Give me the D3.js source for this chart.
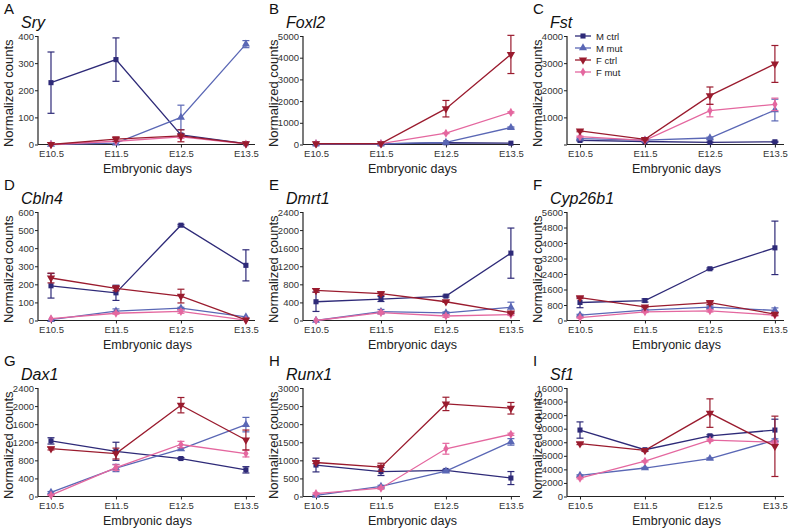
<!DOCTYPE html>
<html><head><meta charset="utf-8">
<script src="https://cdn.jsdelivr.net/npm/d3@7"></script>
<style>body{margin:0;background:#fff} svg text{font-family:"Liberation Sans",Arial,sans-serif}</style>
</head><body><svg id="c" width="793" height="529"></svg>
<script>
const days = ["E10.5","E11.5","E12.5","E13.5"];
const seriesNames = ["M ctrl","M mut","F ctrl","F mut"];
const seriesColors = ["#2e2a78","#5a67b5","#9a1b2e","#e4679f"];
const genes = ["Sry","Foxl2","Fst","Cbln4","Dmrt1","Cyp26b1","Dax1","Runx1","Sf1"];
const panelLetters = ["A","B","C","D","E","F","G","H","I"];
const yMax = [400,5000,4000,600,2400,5600,2400,3000,16000];
const yStep = [100,1000,1000,100,400,800,400,500,2000];
const showZero = [true,true,false,true,true,true,true,true,true];

// rows: M ctrl, M mut, F ctrl, F mut ; columns: E10.5..E13.5
const sryMean = [[228,313,35,3],[0,5,100,370],[0,20,32,3],[0,12,28,2]];
const sryErr  = [[113,80,4,0],[0,0,45,13],[0,8,22,0],[0,0,5,0]];
const foxl2Mean = [[30,30,80,60],[30,30,100,780],[40,40,1650,4150],[40,40,520,1480]];
const foxl2Err  = [[0,0,0,0],[0,0,0,30],[0,0,380,880],[0,0,20,30]];
const fstMean = [[150,110,80,100],[220,160,240,1270],[500,190,1800,2970],[290,150,1250,1480]];
const fstErr  = [[20,10,10,20],[20,10,30,400],[30,20,320,680],[20,10,230,230]];
const cbln4Mean = [[192,153,527,305],[5,52,68,20],[235,178,135,3],[10,40,50,2]];
const cbln4Err  = [[68,42,5,86],[0,12,5,0],[27,14,38,0],[0,5,10,0]];
const dmrt1Mean = [[415,475,540,1490],[0,195,170,290],[665,595,415,170],[0,175,100,130]];
const dmrt1Err  = [[215,55,20,555],[0,50,20,115],[40,40,15,20],[0,30,30,20]];
const cyp26b1Mean = [[930,1030,2670,3750],[280,540,690,520],[1180,700,920,330],[150,450,500,280]];
const cyp26b1Err  = [[270,80,40,1380],[40,40,60,130],[50,40,100,60],[30,40,60,50]];
const dax1Mean = [[1230,1000,840,590],[90,630,1050,1590],[1060,950,2020,1250],[30,640,1150,950]];
const dax1Err  = [[70,200,20,70],[20,80,30,160],[30,120,170,220],[10,60,70,75]];
const runx1Mean = [[870,690,720,510],[30,280,700,1510],[940,810,2560,2440],[80,230,1320,1720]];
const runx1Err  = [[190,110,30,180],[10,30,30,90],[30,110,185,160],[20,30,150,30]];
const sf1Mean = [[9800,6900,8950,9800],[3100,4200,5600,8300],[7800,6800,12300,7400],[2700,5200,8300,8000]];
const sf1Err  = [[1200,150,150,1600],[100,100,100,200],[150,150,2100,4450],[100,100,150,200]];

const means = [sryMean,foxl2Mean,fstMean,cbln4Mean,dmrt1Mean,cyp26b1Mean,dax1Mean,runx1Mean,sf1Mean];
const errs  = [sryErr,foxl2Err,fstErr,cbln4Err,dmrt1Err,cyp26b1Err,dax1Err,runx1Err,sf1Err];

const svg = d3.select("#c");
const colX = [0,265,529], rowY = [0,176,352];
const axL = 38, axR = 255, axT = 36, axB = 144.5;
const symbols = [
  {t:d3.symbolSquare, s:26, r:0},
  {t:d3.symbolTriangle, s:28, r:0},
  {t:d3.symbolTriangle, s:30, r:180},
  {t:d3.symbolDiamond, s:24, r:0}
];
const drawOrder = [0,1,3,2];

genes.forEach((g,pi)=>{
  const gx = colX[pi%3], gy = rowY[Math.floor(pi/3)];
  const p = svg.append("g").attr("transform",`translate(${gx},${gy})`);
  const x = d3.scaleLinear().domain([-0.2,3.14]).range([axL,axR]);
  const y = d3.scaleLinear().domain([0,yMax[pi]]).range([axB,axT]);

  p.append("text").attr("x",4).attr("y",14).attr("font-size",15).attr("fill","#111").text(panelLetters[pi]);
  p.append("text").attr("x",21).attr("y",28).attr("font-size",16).attr("font-style","italic").attr("fill","#111").text(g);

  const ticks = d3.range(0,yMax[pi]+1e-9,yStep[pi]);
  const ya = p.append("g").attr("transform",`translate(${axL},0)`)
    .call(d3.axisLeft(y).tickValues(ticks).tickSize(3).tickPadding(1)
      .tickFormat(v=> (v===0 && !showZero[pi]) ? "" : d3.format("d")(v)));
  const xa = p.append("g").attr("transform",`translate(0,${axB})`)
    .call(d3.axisBottom(x).tickValues([0,1,2,3]).tickSize(3).tickPadding(3).tickFormat(i=>days[i]));
  [ya,xa].forEach(a=>{
    a.select(".domain").attr("stroke","#222").attr("stroke-width",1.2);
    a.selectAll(".tick line").attr("stroke","#222");
    a.selectAll("text").attr("font-size",9.5).attr("fill","#333").attr("font-family","Liberation Sans, Arial, sans-serif");
  });
  xa.select(".domain").attr("d",`M${axL},0H${axR}`);
  ya.select(".domain").attr("d",`M0,${axT}V${axB}`);

  p.append("text").attr("x",(axL+axR)/2+1).attr("y",axB+28).attr("text-anchor","middle")
    .attr("font-size",12.5).attr("fill","#222").text("Embryonic days");
  p.append("text").attr("transform",`translate(13,${(axT+axB)/2+3}) rotate(-90)`).attr("text-anchor","middle")
    .attr("font-size",13).attr("fill","#222").text("Normalized counts");

  drawOrder.forEach(si=>{
    const col = seriesColors[si];
    const m = means[pi][si], e = errs[pi][si];
    const sg = p.append("g");
    m.forEach((v,i)=>{
      if(e[i]>0){
        const x0 = x(i), y1 = y(Math.max(0,v-e[i])), y2 = y(v+e[i]);
        sg.append("line").attr("x1",x0).attr("x2",x0).attr("y1",y1).attr("y2",y2).attr("stroke",col).attr("stroke-width",1.2);
        [y1,y2].forEach(yy=>sg.append("line").attr("x1",x0-3.5).attr("x2",x0+3.5).attr("y1",yy).attr("y2",yy).attr("stroke",col).attr("stroke-width",1.2));
      }
    });
    sg.append("path").datum(m).attr("fill","none").attr("stroke",col).attr("stroke-width",1.3)
      .attr("d",d3.line().x((v,i)=>x(i)).y(v=>y(v)));
    const sym = symbols[si];
    sg.selectAll("path.pt").data(m).join("path").attr("class","pt")
      .attr("transform",(v,i)=>`translate(${x(i)},${y(v)}) rotate(${sym.r})`)
      .attr("d",d3.symbol().type(sym.t).size(sym.s)).attr("fill",col);
  });

  if(pi===2){
    const lg = p.append("g");
    seriesNames.forEach((n,si)=>{
      const ly = 36 + si*12;
      lg.append("line").attr("x1",46).attr("x2",62).attr("y1",ly).attr("y2",ly).attr("stroke",seriesColors[si]).attr("stroke-width",1.3);
      lg.append("path").attr("transform",`translate(54,${ly}) rotate(${symbols[si].r})`)
        .attr("d",d3.symbol().type(symbols[si].t).size(symbols[si].s)).attr("fill",seriesColors[si]);
      lg.append("text").attr("x",67).attr("y",ly+3.5).attr("font-size",9.5).attr("fill","#222").text(n);
    });
  }
});
</script></body></html>
